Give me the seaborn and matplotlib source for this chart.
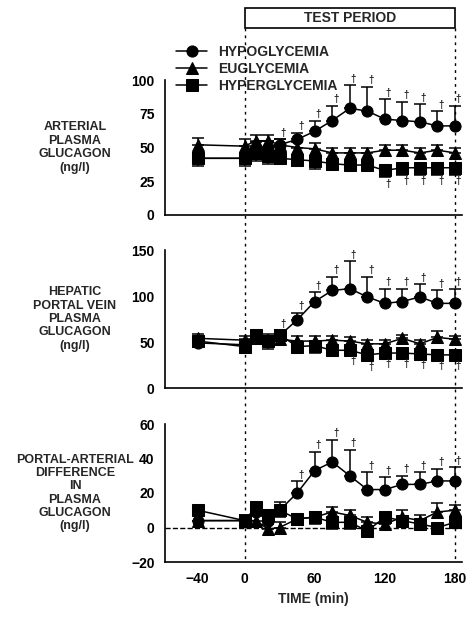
import numpy as np
import pandas as pd
import matplotlib
matplotlib.use("Agg")
import matplotlib.pyplot as plt
import seaborn as sns

sns.set_style("white")
plt.rcParams['font.family'] = ['Liberation Sans', 'DejaVu Sans']
plt.rcParams['font.weight'] = 'bold'

time = [-40, 0, 10, 20, 30, 45, 60, 75, 90, 105, 120, 135, 150, 165, 180]
groups = ["HYPOGLYCEMIA", "EUGLYCEMIA", "HYPERGLYCEMIA"]

art_hypo = [42, 42, 49, 50, 52, 56, 62, 70, 79, 77, 71, 70, 69, 66, 66]
art_eu = [52, 51, 55, 55, 52, 50, 49, 46, 46, 46, 48, 48, 46, 48, 46]
art_hyper = [42, 42, 46, 44, 42, 41, 40, 38, 37, 37, 33, 35, 35, 35, 35]
art_hypo_se = [4, 4, 5, 5, 4, 5, 8, 11, 17, 18, 15, 14, 13, 11, 15]
art_eu_se = [5, 5, 4, 4, 4, 4, 4, 4, 4, 4, 4, 4, 4, 4, 4]
art_hyper_se = [6, 6, 6, 6, 4, 5, 6, 5, 4, 4, 5, 5, 5, 5, 5]

por_hypo = [49, 47, 55, 51, 57, 74, 94, 106, 108, 99, 92, 94, 99, 92, 92]
por_eu = [54, 52, 54, 52, 53, 51, 51, 52, 51, 48, 48, 54, 48, 55, 53]
por_hyper = [51, 45, 58, 51, 58, 45, 46, 41, 41, 36, 38, 38, 37, 36, 36]
por_hypo_se = [6, 6, 6, 8, 6, 8, 10, 15, 30, 22, 16, 14, 14, 14, 16]
por_eu_se = [5, 5, 4, 4, 4, 5, 6, 4, 4, 4, 4, 4, 4, 7, 4]
por_hyper_se = [6, 6, 8, 9, 6, 6, 8, 5, 5, 6, 5, 5, 5, 5, 5]

dif_hypo = [4, 4, 9, 4, 10, 20, 33, 38, 30, 22, 22, 25, 25, 27, 27]
dif_eu = [4, 4, 4, -1, 0, 5, 6, 9, 7, 3, 2, 6, 4, 9, 10]
dif_hyper = [10, 4, 12, 7, 10, 5, 6, 3, 3, -2, 6, 4, 2, 0, 3]
dif_hypo_se = [3, 3, 6, 5, 5, 7, 11, 13, 15, 10, 7, 5, 7, 7, 8]
dif_eu_se = [3, 3, 3, 3, 3, 3, 3, 3, 3, 3, 3, 4, 3, 5, 3]
dif_hyper_se = [3, 3, 4, 4, 4, 3, 4, 4, 4, 3, 3, 3, 3, 3, 3]

panels = [
    ("ARTERIAL\nPLASMA\nGLUCAGON\n(ng/l)", (art_hypo, art_eu, art_hyper), (art_hypo_se, art_eu_se, art_hyper_se),
     (0, 100), [0, 25, 50, 75, 100], 30, 120),
    ("HEPATIC\nPORTAL VEIN\nPLASMA\nGLUCAGON\n(ng/l)", (por_hypo, por_eu, por_hyper), (por_hypo_se, por_eu_se, por_hyper_se),
     (0, 150), [0, 50, 100, 150], 30, 90),
    ("PORTAL-ARTERIAL\nDIFFERENCE\nIN\nPLASMA\nGLUCAGON\n(ng/l)", (dif_hypo, dif_eu, dif_hyper), (dif_hypo_se, dif_eu_se, dif_hyper_se),
     (-20, 60), [-20, 0, 20, 40, 60], 45, None),
]

markers = ["o", "^", "s"]
W, H = 474, 625
fig = plt.figure(figsize=(4.74, 6.25), dpi=100)
boxes = [(80, 215), (250, 388), (424, 562)]
x0, x1 = 165, 462
axes = []
for i, ((lab, vals, ses, ylim, yt, sig_from, hsig_from), (top, bot)) in enumerate(zip(panels, boxes)):
    ax = fig.add_axes([x0 / W, 1 - bot / H, (x1 - x0) / W, (bot - top) / H])
    axes.append(ax)
    for g, v, s, m, sign in zip(groups, vals, ses, markers, (1, 1, -1)):
        df = pd.DataFrame({"time": time, "value": v})
        sns.lineplot(data=df, x="time", y="value", ax=ax, color="black", lw=1.1,
                     marker=m, markersize=8, markeredgecolor="black", label=g, legend=False)
        v_arr = np.array(v); s_arr = np.array(s)
        err = [np.zeros_like(s_arr), s_arr] if sign > 0 else [s_arr, np.zeros_like(s_arr)]
        ax.errorbar(time, v_arr, yerr=err, fmt="none", ecolor="black", elinewidth=1.1, capsize=4, capthick=1.1)
        if g == "HYPOGLYCEMIA":
            for t, val, e in zip(time, v_arr, s_arr):
                if t >= sig_from:
                    ax.text(t + 3, val + e + (ylim[1] - ylim[0]) * 0.01, "†", fontsize=7, ha="center", va="bottom")
        if g == "HYPERGLYCEMIA" and hsig_from is not None:
            for t, val, e in zip(time, v_arr, s_arr):
                if t >= hsig_from:
                    ax.text(t + 3, val - e - (ylim[1] - ylim[0]) * 0.01, "†", fontsize=7, ha="center", va="top")
    ax.set_xlim(-68, 186)
    ax.set_ylim(*ylim)
    ax.set_yticks(yt)
    ax.set_xticks([-40, 0, 60, 120, 180])
    ax.set_xlabel(""); ax.set_ylabel("")
    sns.despine(ax=ax, top=True, right=True)
    for sp in ("left", "bottom"):
        ax.spines[sp].set_color("black"); ax.spines[sp].set_linewidth(1.2)
    ax.tick_params(axis="both", direction="out", length=4, width=1.2, labelsize=10, colors="black")
    if i < 2:
        ax.tick_params(axis="x", labelbottom=False)
    fig.text(75 / W, 1 - ((top + bot) / 2) / H, lab, ha="center", va="center", fontsize=9, fontweight="bold", linespacing=1.15)
    if ylim[0] < 0:
        ax.axhline(0, color="black", ls="--", lw=1)

axes[-1].set_xlabel("TIME (min)", fontsize=10, fontweight="bold")
axes[0].legend(loc="upper left", bbox_to_anchor=(0.02, 1.3), frameon=False, fontsize=10,
               handlelength=2.2, labelspacing=0.2, borderaxespad=0)

for t in (0, 180):
    xp = x0 + (t + 68) / 254 * (x1 - x0)
    fig.add_artist(plt.Line2D([xp / W, xp / W], [1 - 28 / H, 1 - 562 / H], color="black", ls=(0, (2, 3)), lw=1))
xa = x0 + 68 / 254 * (x1 - x0); xb = x0 + 248 / 254 * (x1 - x0)
fig.add_artist(plt.Rectangle((xa / W, 1 - 28 / H), (xb - xa) / W, 20 / H, fill=False, ec="black", lw=1.2))
fig.text((xa + xb) / 2 / W, 1 - 18 / H, "TEST PERIOD", ha="center", va="center", fontsize=10, fontweight="bold")

fig.savefig("out.png", dpi=100, facecolor="white")
